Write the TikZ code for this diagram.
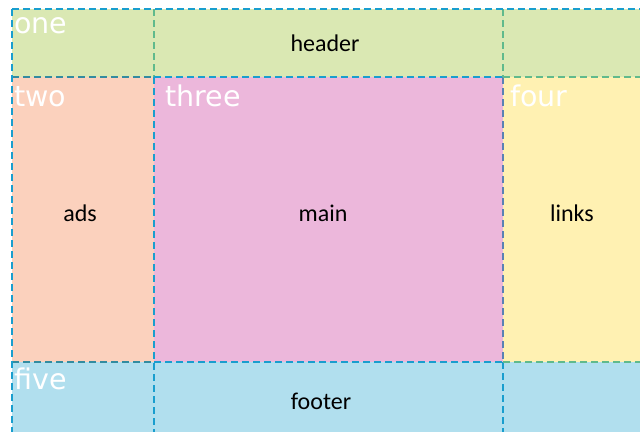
\documentclass[tikz,border=0pt]{standalone}
\usepackage{fontspec}
\setmainfont{Carlito}
\newfontfamily\areafont{DejaVu Sans}
\definecolor{hdrfill}{RGB}{218,232,179}
\definecolor{adsfill}{RGB}{251,209,189}
\definecolor{mainfill}{RGB}{236,183,219}
\definecolor{linkfill}{RGB}{255,241,178}
\definecolor{footfill}{RGB}{177,223,238}
\definecolor{gblue}{RGB}{25,158,206}
\definecolor{ggreen}{RGB}{96,186,140}
\definecolor{gteal}{RGB}{50,140,160}
\definecolor{gmix}{RGB}{90,130,180}
\tikzset{
  gline/.style={line width=2pt, dash pattern=on 7pt off 4pt},
  areaname/.style={anchor=base west, inner sep=0pt, text=white, font=\areafont\fontsize{28.5}{28.5}\selectfont},
  content/.style={anchor=base, inner sep=0pt, text=black, font=\fontsize{24}{24}\selectfont}
}
\begin{document}
\begin{tikzpicture}[x=1pt,y=-1pt]
\useasboundingbox (0,0) rectangle (640,432);
% fills
\fill[hdrfill] (12,9) rectangle (640,77);
\fill[adsfill] (12,77) rectangle (154,362);
\fill[mainfill] (154,77) rectangle (503,362);
\fill[linkfill] (503,77) rectangle (640,362);
\fill[footfill] (12,362) rectangle (640,432);
% grid lines
\coordinate (tl) at (12,9);
\coordinate (tr) at (640,9);
\coordinate (bl) at (12,432);
\coordinate (a1) at (154,9);
\coordinate (a2) at (154,77);
\coordinate (a3) at (154,432);
\coordinate (b1) at (503,9);
\coordinate (b2) at (503,77);
\coordinate (b3) at (503,362);
\coordinate (b4) at (503,432);
\coordinate (h1) at (12,77);
\coordinate (h2) at (640,77);
\coordinate (f1) at (12,362);
\coordinate (f2) at (154,362);
\coordinate (f3) at (640,362);
\draw[gline, ggreen] (a1) -- (a2);
\draw[gline, ggreen] (b1) -- (b2);
\draw[gline, gblue] (a2) -- (a3);
\draw[gline, gmix] (b2) -- (b3);
\draw[gline, gblue] (b3) -- (b4);
\draw[gline, gteal] (h1) -- (a2);
\draw[gline, gblue] (a2) -- (b2);
\draw[gline, ggreen] (b2) -- (h2);
\draw[gline, gteal] (f1) -- (f2);
\draw[gline, gblue] (f2) -- (b3);
\draw[gline, ggreen] (b3) -- (f3);
\draw[gline, gblue] (tl) -- (tr);
\draw[gline, gblue] (tl) -- (bl);
% area names
\node[areaname] (one) at (14,33) {one};
\node[areaname] (two) at (14,106) {two};
\node[areaname] (three) at (165,106) {three};
\node[areaname] (four) at (510,106) {four};
\node[areaname] (five) at (14,389) {five};
% contents
\node[content] (header) at (325,51) {header};
\node[content] (ads) at (80,221) {ads};
\node[content] (main) at (323,221) {main};
\node[content] (links) at (572,221) {links};
\node[content] (footer) at (321,409) {footer};
\end{tikzpicture}
\end{document}
